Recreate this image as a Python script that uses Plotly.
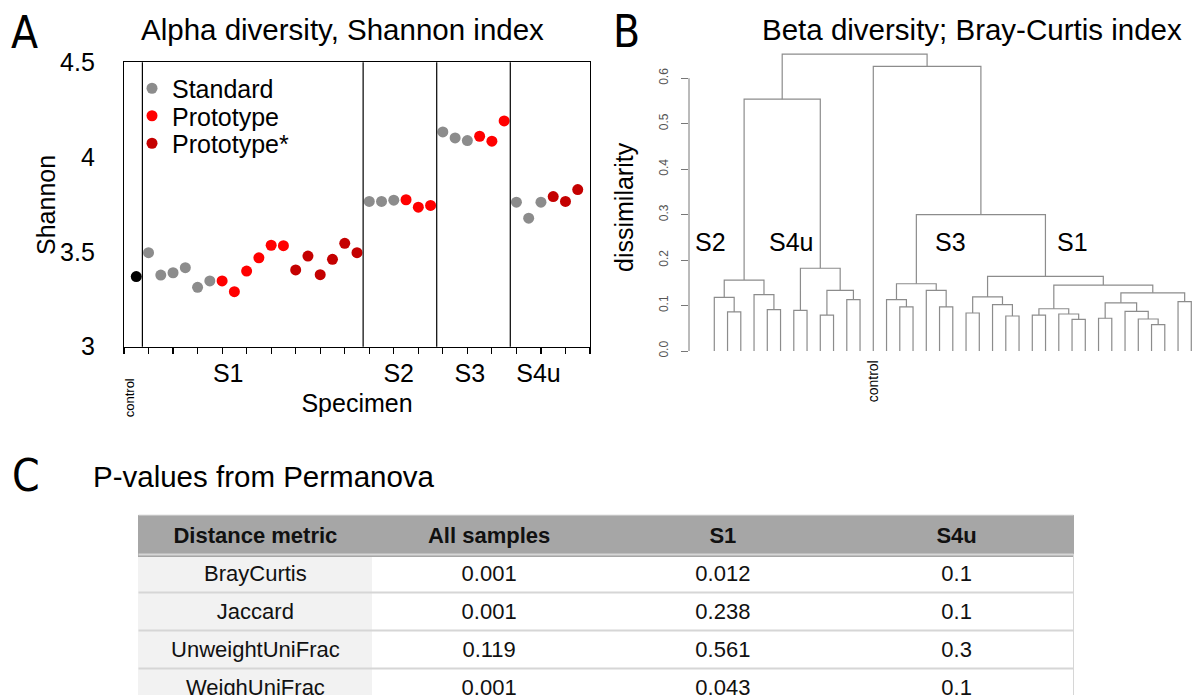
import plotly.graph_objects as go

W, H = 1195, 695
FONT = "Liberation Sans, Arial, Helvetica, sans-serif"
NARROW = "Liberation Sans Narrow, Arial Narrow, DejaVu Sans Condensed, sans-serif"

# ---------------- Panel A data (Shannon index per sample) ----------------
sample_group = ["control"] + ["S1"] * 18 + ["S2"] * 6 + ["S3"] * 6 + ["S4u"] * 6
sample_type = (["control"]
               + ["Standard"] * 6 + ["Prototype"] * 6 + ["Prototype*"] * 6
               + ["Standard"] * 3 + ["Prototype"] * 3
               + ["Standard"] * 3 + ["Prototype"] * 3
               + ["Standard"] * 3 + ["Prototype*"] * 3)
shannon = [3.370,
           3.496, 3.378, 3.390, 3.417, 3.313, 3.347,
           3.347, 3.290, 3.399, 3.469, 3.535, 3.533,
           3.405, 3.478, 3.380, 3.461, 3.545, 3.496,
           3.766, 3.766, 3.773, 3.775, 3.736, 3.745,
           4.133, 4.101, 4.087, 4.110, 4.084, 4.191,
           3.762, 3.678, 3.762, 3.792, 3.766, 3.829]
group_labels = ["S1", "S2", "S3", "S4u"]
legend_types = ["Standard", "Prototype", "Prototype*"]
y_ticks_a = [3, 3.5, 4, 4.5]
y_ticktext_a = ["3", "3.5", "4", "4.5"]

# ---------------- Panel B data (hierarchical clustering, Bray-Curtis) ----------------
leaf_labels = ["S2"] * 6 + ["S4u"] * 6 + ["control"] + ["S3"] * 6 + ["S1"] * 18
# R hclust-style merge table: negative = leaf (position in order), positive = earlier merge
merge_left = [-2, -1, -5, -4, 2, -7, -9, -11, 7, 6, 5,
              -15, -14, -18, -17, 13,
              -20, -23, -22, 17, -25, -28, -27, 21, -30, -34, -33, -32, 25, -36, 29, 24, 20,
              16, -13, 11]
merge_right = [-3, 1, -6, 3, 4, -8, -10, -12, 8, 9, 10,
               -16, 12, -19, 14, 15,
               -21, -24, 18, 19, -26, -29, 22, 23, -31, -35, 26, 27, 28, -37, 30, 31, 32,
               33, 34, 35]
merge_height = [0.086, 0.118, 0.091, 0.124, 0.156, 0.0895, 0.079, 0.113, 0.1335, 0.182, 0.554,
                0.097, 0.113, 0.097, 0.1335, 0.148,
                0.0836, 0.077, 0.102, 0.119, 0.079, 0.0697, 0.0814, 0.093, 0.072, 0.058, 0.0704,
                0.0873, 0.106, 0.1086, 0.128, 0.145, 0.164,
                0.300, 0.626, 0.653]
cluster_labels = ["S2", "S4u", "S3", "S1"]

# ---------------- Panel C data (PERMANOVA p-values) ----------------
table_header = ["Distance metric", "All samples", "S1", "S4u"]
metrics = ["BrayCurtis", "Jaccard", "UnweightUniFrac", "WeighUniFrac"]
p_all = ["0.001", "0.001", "0.119", "0.001"]
p_s1 = ["0.012", "0.238", "0.561", "0.043"]
p_s4u = ["0.1", "0.1", "0.3", "0.1"]


def px(x):
    return x / W


def py(y):
    return 1 - y / H


fig = go.Figure()

# ---- Panel A traces
positions = list(range(1, len(shannon) + 1))
colors = {"control": "#000000", "Standard": "#8c8c8c", "Prototype": "#ff0000", "Prototype*": "#c40000"}
legend_ids = {"Standard": "legend", "Prototype": "legend2", "Prototype*": "legend3"}
for t in ["control"] + legend_types:
    xs = [p for p, s in zip(positions, sample_type) if s == t]
    ys = [v for v, s in zip(shannon, sample_type) if s == t]
    fig.add_trace(go.Scatter(x=xs, y=ys, mode="markers", name=t,
                             showlegend=(t != "control"),
                             legend=legend_ids.get(t, "legend"),
                             marker=dict(color=colors[t], size=11, line=dict(width=0)),
                             xaxis="x", yaxis="y"))

# group boundaries & label positions derived from the sample grouping
group_order = ["control"] + group_labels
bounds = []
for g1, g2 in zip(group_order[:-1], group_order[1:]):
    last = max(p for p, g in zip(positions, sample_group) if g == g1)
    first = min(p for p, g in zip(positions, sample_group) if g == g2)
    bounds.append((last + first) / 2)
label_shift = {"S1": -2.0, "S2": -0.1, "S3": -0.3, "S4u": -0.7}
label_pos = []
for g in group_labels:
    ps = [p for p, gg in zip(positions, sample_group) if gg == g]
    label_pos.append((min(ps) + max(ps)) / 2 + label_shift[g])

shapes = []
for b in bounds:
    shapes.append(dict(type="line", xref="x", yref="y domain", x0=b, x1=b, y0=0, y1=1,
                       line=dict(color="black", width=1.2)))

# ---- Panel B dendrogram
mpos, mh = [], []
lx, ly = [], []


def node(i):
    if i < 0:
        return -i, 0.0
    return mpos[i - 1], mh[i - 1]


for a, b, h in zip(merge_left, merge_right, merge_height):
    xa, ha = node(a)
    xb, hb = node(b)
    lx += [xa, xa, xb, xb, None]
    ly += [ha, h, h, hb, None]
    mpos.append((xa + xb) / 2)
    mh.append(h)

fig.add_trace(go.Scatter(x=lx, y=ly, mode="lines", showlegend=False,
                         line=dict(color="#8c8c8c", width=1.2),
                         xaxis="x2", yaxis="y2", hoverinfo="skip"))

# axis line of dendrogram (R-style, 0 to 0.6 only)
shapes.append(dict(type="line", xref="x2 domain", yref="y2", x0=0, x1=0, y0=0, y1=0.6,
                   line=dict(color="#777777", width=1)))

# ---- Panel C table
fig.add_trace(go.Table(
    domain=dict(x=[px(138.5), px(1073.5)], y=[0, py(515)]),
    columnwidth=[1, 1, 1, 1],
    header=dict(values=["<b>%s</b>" % h for h in table_header],
                fill_color="#a6a6a6", line=dict(color="#a6a6a6", width=1),
                align="center", height=39,
                font=dict(family=FONT, size=22, color="#111111")),
    cells=dict(values=[metrics, p_all, p_s1, p_s4u],
               fill_color=[["#f2f2f2"] * 4, ["white"] * 4, ["white"] * 4, ["white"] * 4],
               line=dict(color=["#f2f2f2", "white", "white", "white"], width=1),
               align="center", height=38,
               font=dict(family=FONT, size=22, color="#111111")),
))
for k in range(len(metrics)):
    yk = 554.5 + 38 * k
    shapes.append(dict(type="line", xref="paper", yref="paper", x0=px(138.5), x1=px(1073.5),
                       y0=py(yk), y1=py(yk), line=dict(color="#d6d6d6", width=2), layer="above"))
shapes.append(dict(type="line", xref="paper", yref="paper", x0=px(1073.5), x1=px(1073.5),
                   y0=py(554), y1=0, line=dict(color="#d6d6d6", width=1), layer="above"))
shapes.append(dict(type="line", xref="paper", yref="paper", x0=px(138.5), x1=px(1073.5),
                   y0=py(515), y1=py(515), line=dict(color="#e0e0e0", width=1), layer="above"))

# ---- annotations
ann = []


def text(x, y, s, size, family=FONT, color="black", angle=0, xref="paper", yref="paper",
         xanchor="center", yanchor="middle", xshift=0):
    ann.append(dict(x=x, y=y, xref=xref, yref=yref, text=s, showarrow=False, textangle=angle,
                    xanchor=xanchor, yanchor=yanchor, xshift=xshift,
                    font=dict(family=family, size=size, color=color)))


text(px(24), py(33), "A", 44, NARROW)
text(px(626), py(32), "B", 44, NARROW)
text(px(26), py(475), "C", 44, NARROW)
text(px(342), py(29), "Alpha diversity, Shannon index", 29.5)
text(px(972), py(29), "Beta diversity; Bray-Curtis index", 29.5)
text(px(264), py(476), "P-values from Permanova", 29.5)
# axis title of panel A (y)
text(px(46), py(205), "Shannon", 25, angle=-90)
# control label in panel A
text(positions[sample_group.index("control")], py(398), "control", 13, xref="x", angle=-90, xshift=-6)
# panel B labels
text(leaf_labels.index("control") + 1, py(381), "control", 14, xref="x2", angle=-90)
text(px(624), py(207), "dissimilarity", 25, angle=-90)
cl_pos = {"S2": 0.75, "S4u": 6.76, "S3": 18.8, "S1": 28.0}
for c in cluster_labels:
    text(cl_pos[c], 0.24, c, 25, xref="x2", yref="y2")

legend_common = dict(x=px(132), xanchor="left", yanchor="middle",
                     bgcolor="rgba(0,0,0,0)", font=dict(size=25, family=FONT),
                     itemwidth=30, tracegroupgap=0)
legend_y = {"legend": 88.5, "legend2": 116.0, "legend3": 143.5}

fig.update_layout(
    width=W, height=H, margin=dict(l=0, r=0, t=0, b=0, autoexpand=False),
    paper_bgcolor="white", plot_bgcolor="white",
    font=dict(family=FONT, color="black"),
    showlegend=True,
    legend=dict(y=py(legend_y["legend"]), **legend_common),
    legend2=dict(y=py(legend_y["legend2"]), **legend_common),
    legend3=dict(y=py(legend_y["legend3"]), **legend_common),
    xaxis=dict(domain=[px(124), px(590)], range=[0, 38], showgrid=False, zeroline=False,
               automargin=False,
               showline=True, mirror=True, linecolor="black", linewidth=1.2,
               tickvals=label_pos, ticktext=group_labels, ticks="",
               tickfont=dict(size=25), ticklabelstandoff=4,
               minor=dict(tickvals=list(range(0, 39, 2)), ticks="outside", ticklen=6,
                          tickcolor="black", tickwidth=1.2),
               title=dict(text="Specimen", font=dict(size=25), standoff=8)),
    yaxis=dict(domain=[py(346.7), py(62.3)], range=[3, 4.5], showgrid=False, zeroline=False,
               automargin=False,
               showline=True, mirror=True, linecolor="black", linewidth=1.2,
               tickvals=y_ticks_a, ticktext=y_ticktext_a, ticks="",
               tickfont=dict(size=25), ticklabelstandoff=23),
    xaxis2=dict(domain=[px(689), 1.0], range=[-0.909, 37.28], visible=False, automargin=False),
    yaxis2=dict(domain=[py(351), py(41.9)], range=[0, 0.68], anchor="x2", automargin=False,
                showgrid=False, zeroline=False, showline=False,
                tickvals=[0, 0.1, 0.2, 0.3, 0.4, 0.5, 0.6], tickformat=".1f",
                ticks="outside", ticklen=7, tickcolor="#777777",
                tickangle=-90, tickfont=dict(size=12, color="#555555"),
                ticklabelstandoff=8),
    shapes=shapes,
    annotations=ann,
)

fig.write_html("out.html", config={"staticPlot": True})
